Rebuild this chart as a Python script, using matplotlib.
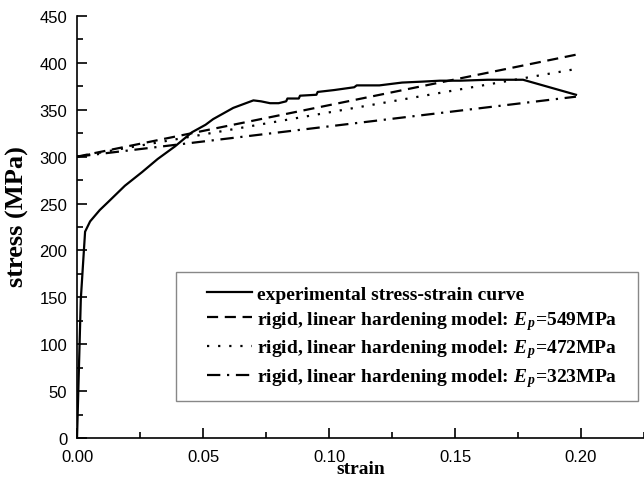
import numpy as np
import matplotlib.pyplot as plt
from matplotlib.patches import Rectangle
from matplotlib.ticker import MultipleLocator

# measured stress-strain curve
strain_exp = [0.0, 0.0015, 0.0032, 0.0052, 0.0090, 0.0123, 0.019, 0.0258, 0.032,
              0.0389, 0.0456, 0.051, 0.054, 0.062, 0.067, 0.070, 0.073, 0.0766,
              0.080, 0.083, 0.0835, 0.088, 0.0885, 0.095, 0.0955, 0.102, 0.110,
              0.111, 0.120, 0.129, 0.137, 0.144, 0.152, 0.163, 0.170, 0.177,
              0.198]
stress_exp = [0, 148, 220, 231, 243, 251.5, 269, 283.5, 297.5,
              311, 326, 334, 340, 352, 357, 360, 359, 357,
              357, 359, 362, 362, 365, 366, 369, 371, 374,
              376, 376, 379, 380, 381, 381, 382, 382, 382,
              366]

# rigid, linear hardening models
sigma_y = 300.0
strain_end = 0.198
Ep_values = [549, 472, 323]
styles = [(0, (5, 3)), (0, (1, 4)), (0, (6, 3, 1, 3))]

plt.rcParams['mathtext.fontset'] = 'custom'
plt.rcParams['mathtext.it'] = 'Liberation Serif:italic:bold'
plt.rcParams['mathtext.rm'] = 'Liberation Serif:bold'

fig = plt.figure(figsize=(6.44, 4.81), dpi=100)
ax = fig.add_axes([0.1196, 0.0873, 0.8804, 0.8774])

ax.plot(strain_exp, stress_exp, color='black', lw=1.6, ls='-',
        label='experimental stress-strain curve')
eps = np.array([0.0, strain_end])
for Ep, ls in zip(Ep_values, styles):
    ax.plot(eps, sigma_y + Ep * eps, color='black', lw=1.6, ls=ls,
            label=r'rigid, linear hardening model: $E_{\,p}$=%dMPa' % Ep)

ax.set_xlim(0, 0.225)
ax.set_ylim(0, 450)
ax.xaxis.set_major_locator(MultipleLocator(0.05))
ax.xaxis.set_minor_locator(MultipleLocator(0.025))
ax.yaxis.set_major_locator(MultipleLocator(50))
ax.yaxis.set_minor_locator(MultipleLocator(25))
ax.set_xticks([0.0, 0.05, 0.10, 0.15, 0.20])
ax.set_xticklabels(['0.00', '0.05', '0.10', '0.15', '0.20'])
ax.tick_params(which='both', direction='in', width=1.2, labelsize=12,
               top=False, right=False)
ax.tick_params(which='major', length=7)
ax.tick_params(which='minor', length=4.5)
ax.tick_params(axis='x', which='major', pad=8)
ax.tick_params(axis='y', which='major', pad=7)
for lab in ax.get_xticklabels() + ax.get_yticklabels():
    lab.set_family('Liberation Sans')
ax.spines['top'].set_visible(False)
ax.spines['right'].set_visible(False)
ax.spines['left'].set_linewidth(1.2)
ax.spines['bottom'].set_linewidth(1.2)

ax.set_xlabel('strain', family='Liberation Serif', weight='bold', fontsize=14, labelpad=-3)
ax.set_ylabel('stress (MPa)', family='Liberation Serif', weight='bold', fontsize=19)
ax.yaxis.set_label_coords(-0.085, 0.528)

# legend box drawn separately so the entries can sit with a wider left margin
ax.add_patch(Rectangle((0.1746, 0.0877), 0.8148, 0.3056, transform=ax.transAxes,
                       facecolor='white', edgecolor='#888888', lw=1.0, zorder=4))
leg = ax.legend(loc='upper left', bbox_to_anchor=(0.2293, 0.362), frameon=False,
                handlelength=2.3, handletextpad=0.25, labelspacing=0.3,
                borderpad=0, borderaxespad=0,
                prop={'family': 'Liberation Serif', 'weight': 'bold', 'size': 14})
leg.set_zorder(5)

fig.savefig('out.png', dpi=100)
